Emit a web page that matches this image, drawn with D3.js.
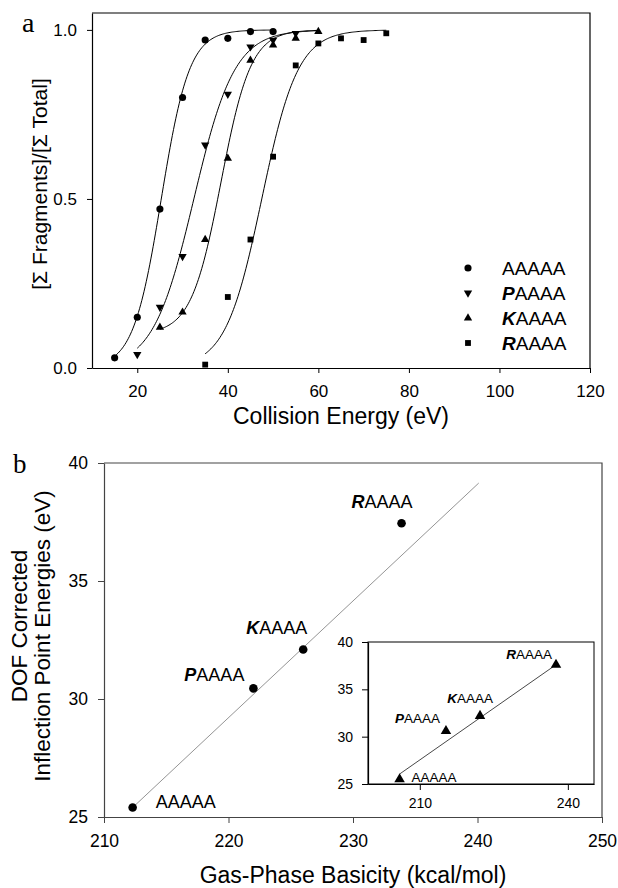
<!DOCTYPE html>
<html>
<head>
<meta charset="utf-8">
<script src="https://cdn.jsdelivr.net/npm/d3@7"></script>
<style>
  body { margin: 0; background: #fff; }
  svg { display: block; }
</style>
</head>
<body>
<div id="chart"></div>
<script>
// ---------- panel a : fragmentation curves ----------
const seriesNames = ['AAAAA', 'PAAAA', 'KAAAA', 'RAAAA'];
const energyA = [15, 20, 25, 30, 35, 40, 45, 50];
const fractionA = [0.03, 0.15, 0.47, 0.80, 0.97, 0.975, 0.995, 0.995];
const energyP = [20, 25, 30, 35, 40, 45, 50, 55];
const fractionP = [0.04, 0.18, 0.33, 0.66, 0.81, 0.95, 0.97, 0.99];
const energyK = [25, 30, 35, 40, 45, 50, 55, 60];
const fractionK = [0.12, 0.165, 0.38, 0.62, 0.91, 0.955, 0.975, 0.995];
const energyR = [35, 40, 45, 50, 55, 60, 65, 70, 75];
const fractionR = [0.01, 0.21, 0.38, 0.625, 0.895, 0.96, 0.975, 0.97, 0.99];

// sigmoid fit parameters
const fitX0 = [25.3, 32.5, 38.5, 47.5];
const fitB = [3.1, 4.5, 3.3, 4.0];
const fitY0 = [0, 0, 0.1, 0];
const fitA = [1, 1, 0.9, 1];
const fitStart = [15, 20, 25, 35];
const fitEnd = [50, 60, 60, 75];

const xTicksA = [20, 40, 60, 80, 100, 120];
const yTicksA = [0, 0.5, 1.0];

// ---------- panel b : inflection point vs basicity ----------
const basicity = [212.3, 222.0, 226.0, 233.9];
const inflection = [25.4, 30.45, 32.1, 37.45];
const fitLineX = [212.3, 240.1];
const fitLineY = [25.4, 39.15];
const xTicksB = [210, 220, 230, 240, 250];
const yTicksB = [25, 30, 35, 40];

// inset
const insetX = [205.9, 215.3, 222.2, 237.6];
const insetY = [25.5, 30.6, 32.2, 37.6];
const insetLineX = [205.9, 237.6];
const insetLineY = [26.05, 37.6];
const xTicksInset = [210, 240];
const yTicksInset = [25, 30, 35, 40];

const font = "'Liberation Sans', Arial, sans-serif";
const serif = "'Liberation Serif', 'Times New Roman', serif";

const svg = d3.select('#chart').append('svg')
    .attr('width', 618)
    .attr('height', 888);

const symbolTypes = [d3.symbolCircle, d3.symbolTriangle, d3.symbolTriangle, d3.symbolSquare];
const symbolSizes = [40, 30, 30, 34];
const symbolRotate = [0, 180, 0, 0];

function styleAxis(g, size, color) {
    g.selectAll('.domain').attr('stroke', color).attr('stroke-width', 1.2);
    g.selectAll('.tick line').attr('stroke', color).attr('stroke-width', 1);
    g.selectAll('text')
        .attr('font-family', font)
        .attr('font-size', size)
        .attr('fill', '#000');
}

// label with bold italic first letter (except plain AAAAA)
function peptideLabel(sel, name) {
    if (name === 'AAAAA') {
        sel.append('tspan').text(name);
    } else {
        sel.append('tspan').attr('font-weight', 'bold').attr('font-style', 'italic').text(name[0]);
        sel.append('tspan').text(name.slice(1));
    }
}

// ================== PANEL A ==================
function drawPanelA() {
    const x = d3.scaleLinear().domain([10, 120]).range([92, 590]);
    const y = d3.scaleLinear().domain([0, 1.05]).range([368, 13]);
    const g = svg.append('g').attr('class', 'panel-a');

    // frame top + right
    g.append('path')
        .attr('d', `M${x(10)},${y(1.05)}H${x(120)}V${y(0)}`)
        .attr('fill', 'none').attr('stroke', '#000').attr('stroke-width', 1.2);

    const xAxis = d3.axisBottom(x).tickValues(xTicksA).tickSize(5).tickSizeOuter(0).tickPadding(12);
    const yAxis = d3.axisLeft(y).tickValues(yTicksA).tickSize(5).tickSizeOuter(0).tickPadding(10).tickFormat(d3.format('.1f'));
    g.append('g').attr('transform', `translate(0,${y(0)})`).call(xAxis).call(a => styleAxis(a, 17, '#000'));
    g.append('g').attr('transform', `translate(${x(10)},0)`).call(yAxis).call(a => styleAxis(a, 17, '#000'));

    // fitted curves
    const line = d3.line().x(d => x(d[0])).y(d => y(d[1]));
    seriesNames.forEach((name, i) => {
        const pts = d3.range(fitStart[i], fitEnd[i] + 0.01, 0.25).map(e =>
            [e, fitY0[i] + fitA[i] / (1 + Math.exp(-(e - fitX0[i]) / fitB[i]))]);
        g.append('path')
            .attr('d', line(pts))
            .attr('fill', 'none')
            .attr('stroke', '#000')
            .attr('stroke-width', 1);
    });

    // data markers
    const energies = [energyA, energyP, energyK, energyR];
    const fractions = [fractionA, fractionP, fractionK, fractionR];
    seriesNames.forEach((name, i) => {
        const sym = d3.symbol().type(symbolTypes[i]).size(symbolSizes[i]);
        g.selectAll('.pt-' + i)
            .data(energies[i].map((e, j) => [e, fractions[i][j]]))
            .join('path')
            .attr('class', 'pt-' + i)
            .attr('d', sym)
            .attr('fill', '#000')
            .attr('transform', d => `translate(${x(d[0])},${y(d[1])}) rotate(${symbolRotate[i]})`);
    });

    // legend
    const legend = g.append('g').attr('class', 'legend');
    seriesNames.forEach((name, i) => {
        const cy = 268 + i * 25;
        legend.append('path')
            .attr('d', d3.symbol().type(symbolTypes[i]).size(symbolSizes[i])())
            .attr('fill', '#000')
            .attr('transform', `translate(468,${cy}) rotate(${symbolRotate[i]})`);
        legend.append('text')
            .attr('x', 502).attr('y', cy + 7)
            .attr('font-family', font).attr('font-size', 19)
            .call(t => peptideLabel(t, name));
    });

    // titles
    g.append('text')
        .attr('x', 341).attr('y', 424)
        .attr('text-anchor', 'middle')
        .attr('font-family', font).attr('font-size', 23)
        .text('Collision Energy (eV)');
    g.append('text')
        .attr('transform', 'translate(47,184) rotate(-90)')
        .attr('text-anchor', 'middle')
        .attr('font-family', font).attr('font-size', 21)
        .text('[\u03A3 Fragments]/[\u03A3 Total]');
    g.append('text')
        .attr('x', 22).attr('y', 32)
        .attr('font-family', serif).attr('font-size', 28)
        .text('a');
}

// ================== PANEL B ==================
function drawPanelB() {
    const x = d3.scaleLinear().domain([210, 250]).range([104, 602]);
    const y = d3.scaleLinear().domain([25, 40]).range([817, 463]);
    const g = svg.append('g').attr('class', 'panel-b');

    g.append('path')
        .attr('d', `M${x(210)},${y(40)}H${x(250)}V${y(25)}`)
        .attr('fill', 'none').attr('stroke', '#444').attr('stroke-width', 1.2);

    const xAxis = d3.axisBottom(x).tickValues(xTicksB).tickSize(6).tickSizeOuter(0).tickPadding(12);
    const yAxis = d3.axisLeft(y).tickValues(yTicksB).tickSize(6).tickSizeOuter(0).tickPadding(10);
    g.append('g').attr('transform', `translate(0,${y(25)})`).call(xAxis).call(a => styleAxis(a, 17.5, '#444'));
    g.append('g').attr('transform', `translate(${x(210)},0)`).call(yAxis).call(a => styleAxis(a, 17.5, '#444'));

    // regression line
    g.append('line')
        .attr('x1', x(fitLineX[0])).attr('y1', y(fitLineY[0]))
        .attr('x2', x(fitLineX[1])).attr('y2', y(fitLineY[1]))
        .attr('stroke', '#888').attr('stroke-width', 0.9);

    g.selectAll('.pt-b')
        .data(basicity.map((b, i) => [b, inflection[i]]))
        .join('circle')
        .attr('class', 'pt-b')
        .attr('cx', d => x(d[0]))
        .attr('cy', d => y(d[1]))
        .attr('r', 4.3)
        .attr('fill', '#000');

    const labelOffsets = [
        { dx: 23, dy: 0, anchor: 'start' },
        { dx: -9, dy: -7, anchor: 'end' },
        { dx: 4, dy: -15, anchor: 'end' },
        { dx: 11, dy: -15, anchor: 'end' }
    ];
    seriesNames.forEach((name, i) => {
        const o = labelOffsets[i];
        g.append('text')
            .attr('x', x(basicity[i]) + o.dx)
            .attr('y', y(inflection[i]) + o.dy)
            .attr('text-anchor', o.anchor)
            .attr('font-family', font).attr('font-size', 18)
            .call(t => peptideLabel(t, name));
    });

    g.append('text')
        .attr('x', 353).attr('y', 883)
        .attr('text-anchor', 'middle')
        .attr('font-family', font).attr('font-size', 23)
        .text('Gas-Phase Basicity (kcal/mol)');
    g.append('text')
        .attr('transform', 'translate(27,626) rotate(-90)')
        .attr('text-anchor', 'middle')
        .attr('font-family', font).attr('font-size', 22.5)
        .text('DOF Corrected');
    g.append('text')
        .attr('transform', 'translate(50,636) rotate(-90)')
        .attr('text-anchor', 'middle')
        .attr('font-family', font).attr('font-size', 22.5)
        .text('Inflection Point Energies (eV)');
    g.append('text')
        .attr('x', 13).attr('y', 473)
        .attr('font-family', serif).attr('font-size', 27)
        .text('b');
}

// ================== INSET ==================
function drawInset() {
    const x = d3.scaleLinear().domain([199.5, 245.3]).range([368, 594]);
    const y = d3.scaleLinear().domain([25, 40]).range([784, 642]);
    const g = svg.append('g').attr('class', 'inset');

    g.append('rect')
        .attr('x', 368).attr('y', 642)
        .attr('width', 594 - 368).attr('height', 784 - 642)
        .attr('fill', '#fff').attr('stroke', '#000').attr('stroke-width', 1);

    const xAxis = d3.axisBottom(x).tickValues(xTicksInset).tickSize(6).tickSizeOuter(0).tickPadding(8);
    const yAxis = d3.axisLeft(y).tickValues(yTicksInset).tickSize(6).tickSizeOuter(0).tickPadding(9);
    g.append('g').attr('transform', `translate(0,${y(25)})`).call(xAxis).call(a => styleAxis(a, 14, '#000'));
    g.append('g').attr('transform', `translate(${x.range()[0]},0)`).call(yAxis).call(a => styleAxis(a, 14, '#000'));

    g.append('line')
        .attr('x1', x(insetLineX[0])).attr('y1', y(insetLineY[0]))
        .attr('x2', x(insetLineX[1])).attr('y2', y(insetLineY[1]))
        .attr('stroke', '#333').attr('stroke-width', 0.9);

    const tri = d3.symbol().type(d3.symbolTriangle).size(48);
    g.selectAll('.pt-inset')
        .data(insetX.map((b, i) => [b, insetY[i]]))
        .join('path')
        .attr('class', 'pt-inset')
        .attr('d', tri)
        .attr('fill', '#000')
        .attr('transform', d => `translate(${x(d[0])},${y(d[1])})`);

    const labelOffsets = [
        { dx: 12, dy: 3, anchor: 'start' },
        { dx: -6, dy: -8, anchor: 'end' },
        { dx: 13, dy: -13, anchor: 'end' },
        { dx: -4, dy: -6, anchor: 'end' }
    ];
    seriesNames.forEach((name, i) => {
        const o = labelOffsets[i];
        g.append('text')
            .attr('x', x(insetX[i]) + o.dx)
            .attr('y', y(insetY[i]) + o.dy)
            .attr('text-anchor', o.anchor)
            .attr('font-family', font).attr('font-size', 13.5)
            .call(t => peptideLabel(t, name));
    });
}

drawPanelA();
drawPanelB();
drawInset();
</script>
</body>
</html>
